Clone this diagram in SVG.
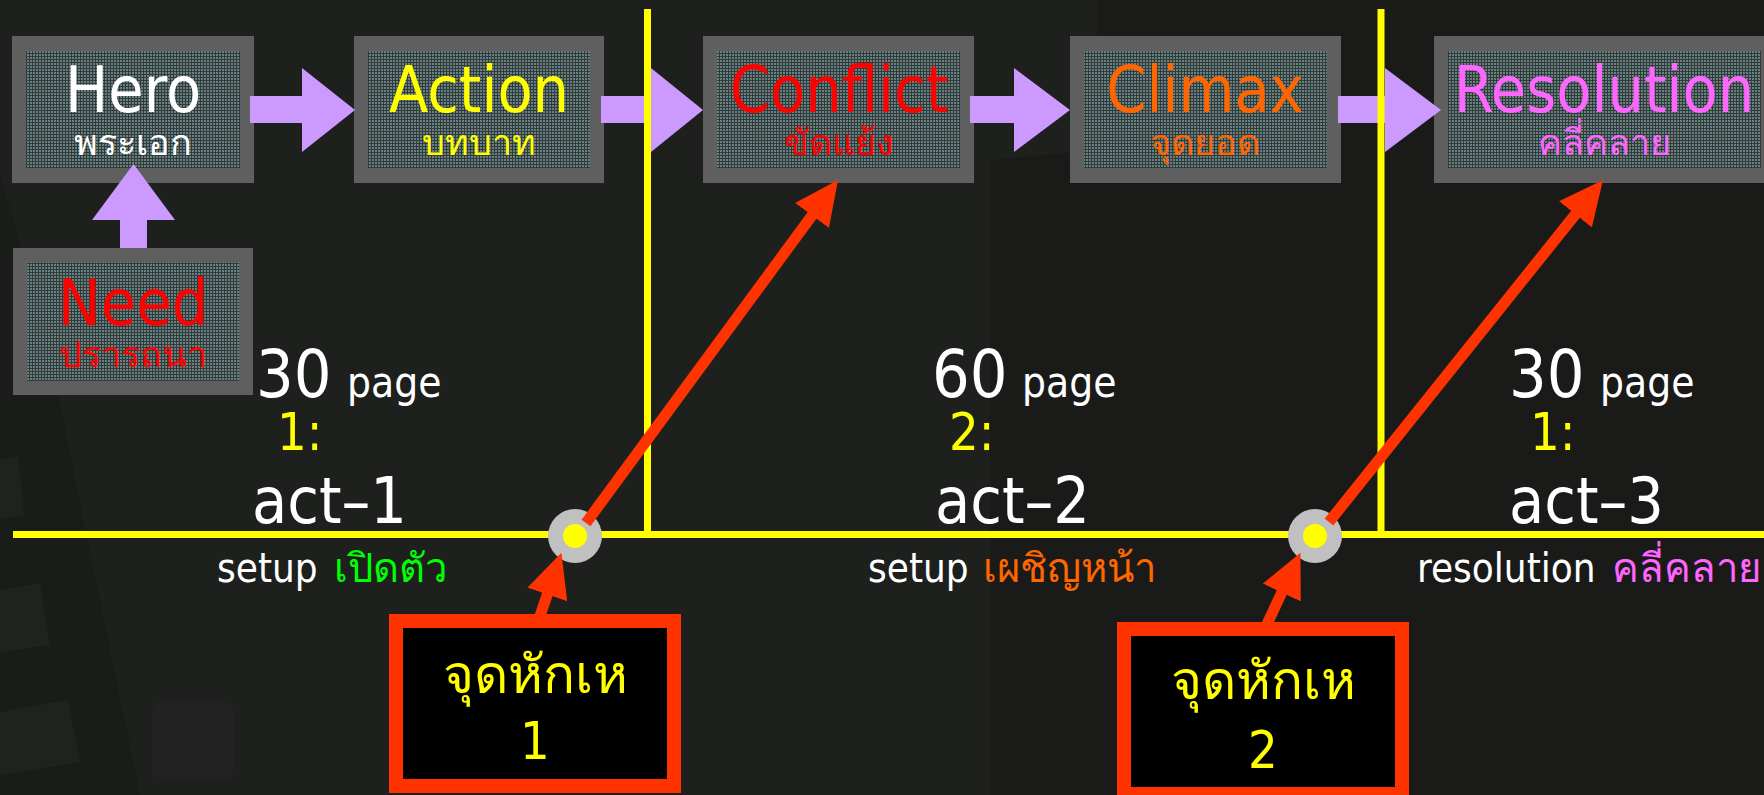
<svg xmlns="http://www.w3.org/2000/svg" width="1764" height="795" viewBox="0 0 1764 795">
  <defs>
    <pattern id="tex" width="3" height="3" patternUnits="userSpaceOnUse">
      <rect width="3" height="3" fill="#303b3b"/>
      <rect width="2" height="2" fill="#6a8080"/>
    </pattern>
    <marker id="redHead" viewBox="0 0 44 42" refX="10" refY="21" markerWidth="44" markerHeight="42" markerUnits="userSpaceOnUse" orient="auto">
      <path d="M0,0 L44,21 L0,42 z" fill="#ff3300"/>
    </marker>
    <style>
      text { font-family: "DejaVu Sans Condensed", "DejaVu Sans", "Noto Sans", sans-serif; }
      .frame { fill: #5f5f5f; }
      .inner { fill: url(#tex); }
      .title { font-size: 64px; text-anchor: middle; }
      .sub { font-size: 36px; text-anchor: middle; }
      .flow { fill: #cc99ff; }
      .yline { stroke: #ffff00; stroke-width: 7; fill: none; }
      .red { stroke: #ff3300; stroke-width: 11; fill: none; marker-end: url(#redHead); }
      .big { font-size: 66px; fill: #ffffff; }
      .pg { font-size: 42px; fill: #ffffff; }
      .num { font-size: 52px; fill: #ffff00; }
      .act { font-size: 64px; fill: #ffffff; }
      .cap { font-size: 40px; fill: #ffffff; }
      .tp rect { fill: #000000; stroke: #ff3300; stroke-width: 14; }
      .tp text { fill: #ffff00; text-anchor: middle; }
    </style>
  </defs>

  <!-- background -->
  <g id="background">
    <rect width="1764" height="795" fill="#1e201d"/>
    <polygon points="1097,0 1764,0 1764,795 990,795 990,160 1097,150" fill="#1a1b19"/>
    <polygon points="0,170 55,380 140,795 0,795" fill="#1a1c19"/>
    <polygon points="0,460 18,455 24,515 0,520" fill="#20221f"/>
    <polygon points="0,590 40,583 50,645 0,652" fill="#20221f"/>
    <polygon points="0,712 68,700 80,762 0,775" fill="#20221f"/>
    <rect x="152" y="702" width="82" height="78" rx="12" fill="#222222"/>
  </g>

  <!-- nodes -->
  <g id="node-hero">
    <rect class="frame" x="12" y="36" width="242" height="147"/>
    <rect class="inner" x="26" y="51" width="214" height="117"/>
    <text class="title" x="133" y="112" fill="#ffffff">Hero</text>
    <text class="sub" x="133" y="155" fill="#ffffff">พระเอก</text>
  </g>
  <g id="node-action">
    <rect class="frame" x="354" y="36" width="250" height="147"/>
    <rect class="inner" x="368" y="51" width="222" height="117"/>
    <text class="title" x="479" y="112" fill="#ffff00">Action</text>
    <text class="sub" x="479" y="155" fill="#ffff00">บทบาท</text>
  </g>
  <g id="node-conflict">
    <rect class="frame" x="703" y="36" width="271" height="147"/>
    <rect class="inner" x="717" y="51" width="243" height="117"/>
    <text class="title" x="839" y="112" fill="#ff0000">Conflict</text>
    <text class="sub" x="839" y="155" fill="#ff0000">ขัดแย้ง</text>
  </g>
  <g id="node-climax">
    <rect class="frame" x="1070" y="36" width="271" height="147"/>
    <rect class="inner" x="1084" y="51" width="243" height="117"/>
    <text class="title" x="1205" y="112" fill="#ff6600">Climax</text>
    <text class="sub" x="1205" y="155" fill="#ff6600">จุดยอด</text>
  </g>
  <g id="node-resolution">
    <rect class="frame" x="1434" y="36" width="345" height="147"/>
    <rect class="inner" x="1448" y="51" width="313" height="117"/>
    <text class="title" x="1604" y="112" fill="#ff66ff">Resolution</text>
    <text class="sub" x="1604" y="155" fill="#ff66ff">คลี่คลาย</text>
  </g>
  <g id="node-need">
    <rect class="frame" x="13" y="248" width="240" height="147"/>
    <rect class="inner" x="27" y="262" width="212" height="119"/>
    <text class="title" x="133" y="325" fill="#ff0000">Need</text>
    <text class="sub" x="133" y="367" fill="#ff0000">ปรารถนา</text>
  </g>

  <!-- flow connectors -->
  <g id="connectors-flow">
    <polygon class="flow" points="120,248 120,220 92,220 133.5,164 175,220 147,220 147,248"/>
    <polygon class="flow" points="250,96 302,96 302,68 355,110 302,152 302,123 250,123"/>
    <polygon class="flow" points="601,96 651,96 651,68 703,110 651,152 651,123 601,123"/>
    <polygon class="flow" points="970,96 1014,96 1014,68 1070,110 1014,152 1014,123 970,123"/>
    <polygon class="flow" points="1338,96 1385,96 1385,68 1441,110 1385,152 1385,123 1338,123"/>
  </g>

  <!-- timeline -->
  <g id="timeline">
    <line class="yline" x1="13" y1="534.5" x2="1764" y2="534.5"/>
    <line class="yline" x1="647.5" y1="9" x2="647.5" y2="534"/>
    <line class="yline" x1="1381" y1="9" x2="1381" y2="534"/>
  </g>

  <!-- act labels -->
  <g id="act-1">
    <text class="big" x="256" y="397">30</text>
    <text class="pg" x="347" y="397">page</text>
    <text class="num" x="277" y="450">1:</text>
    <text class="act" x="252" y="523">act–1</text>
    <text class="cap" x="217" y="582">setup</text>
    <text class="cap" x="334" y="582" style="fill:#00ff00">เปิดตัว</text>
  </g>
  <g id="act-2">
    <text class="big" x="932" y="397">60</text>
    <text class="pg" x="1022" y="397">page</text>
    <text class="num" x="949" y="450">2:</text>
    <text class="act" x="935" y="523">act–2</text>
    <text class="cap" x="868" y="582">setup</text>
    <text class="cap" x="983" y="582" style="fill:#ff6600">เผชิญหน้า</text>
  </g>
  <g id="act-3">
    <text class="big" x="1509" y="397">30</text>
    <text class="pg" x="1600" y="397">page</text>
    <text class="num" x="1530" y="450">1:</text>
    <text class="act" x="1509" y="523">act–3</text>
    <text class="cap" x="1417" y="582">resolution</text>
    <text class="cap" x="1612" y="582" style="fill:#ff66ff">คลี่คลาย</text>
  </g>

  <!-- turning point markers -->
  <g id="point-1">
    <circle cx="575" cy="536" r="27" fill="#c0c0c0"/>
    <circle cx="575" cy="536" r="12" fill="#ffff00"/>
  </g>
  <g id="point-2">
    <circle cx="1315" cy="536" r="27" fill="#c0c0c0"/>
    <circle cx="1315" cy="536" r="12" fill="#ffff00"/>
  </g>

  <!-- turning point connectors -->
  <g id="connectors-turning">
    <line class="red" x1="586" y1="523" x2="817.9" y2="207.4"/>
    <line class="red" x1="1329" y1="522" x2="1581.7" y2="206.5"/>
    <line class="red" x1="540" y1="616" x2="550.5" y2="585"/>
    <line class="red" x1="1267" y1="624" x2="1286" y2="583.5"/>
  </g>

  <!-- turning point boxes -->
  <g id="node-turn-1" class="tp">
    <rect x="396" y="621" width="278" height="165"/>
    <text x="535" y="693" font-size="53">จุดหักเห</text>
    <text x="535" y="759" font-size="52">1</text>
  </g>
  <g id="node-turn-2" class="tp">
    <rect x="1124" y="629" width="278" height="165"/>
    <text x="1263" y="699" font-size="53">จุดหักเห</text>
    <text x="1263" y="768" font-size="52">2</text>
  </g>
</svg>
